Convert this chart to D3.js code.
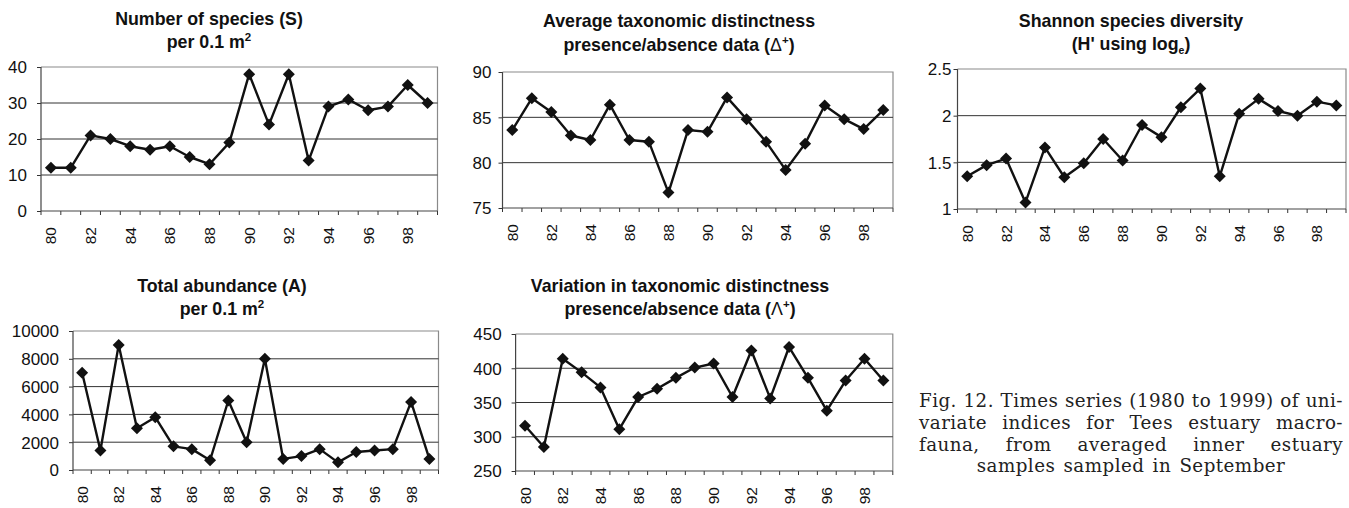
<!DOCTYPE html>
<html>
<head>
<meta charset="utf-8">
<script src="https://cdn.jsdelivr.net/npm/d3@7/dist/d3.min.js"></script>
<style>
  html, body { margin: 0; padding: 0; background: #fff; }
  svg { display: block; }
  .tick text { font-family: "Liberation Sans", Arial, sans-serif; fill: #111; }
  .title { font-family: "Liberation Sans", Arial, sans-serif; font-weight: bold; font-size: 17.8px; fill: #111; }
  .caption { font-family: "DejaVu Serif", "Liberation Serif", serif; font-size: 18.3px; letter-spacing: 0.45px; fill: #222; }
</style>
</head>
<body>
<svg id="fig" width="1349" height="508"></svg>
<script>
// Sampling years (1980–1999), shown as two-digit labels
const years = ["80","81","82","83","84","85","86","87","88","89",
               "90","91","92","93","94","95","96","97","98","99"];
const yearLabels = ["80","82","84","86","88","90","92","94","96","98"];

// Univariate indices per year
const speciesS     = [12, 12, 21, 20, 18, 17, 18, 15, 13, 19, 38, 24, 38, 14, 29, 31, 28, 29, 35, 30];
const avgTaxDist   = [83.6, 87.1, 85.6, 83.0, 82.5, 86.4, 82.5, 82.3, 76.7, 83.6,
                      83.4, 87.2, 84.8, 82.3, 79.2, 82.1, 86.3, 84.8, 83.7, 85.8];
const shannonH     = [1.35, 1.47, 1.54, 1.07, 1.66, 1.34, 1.49, 1.75, 1.52, 1.90,
                      1.77, 2.09, 2.29, 1.35, 2.02, 2.18, 2.05, 2.00, 2.15, 2.11];
const abundanceA   = [7000, 1400, 9000, 3000, 3800, 1700, 1500, 700, 5000, 2000,
                      8000, 800, 1000, 1500, 550, 1300, 1400, 1500, 4900, 800];
const varTaxDist   = [316, 285, 414, 394, 372, 311, 358, 370, 386, 401,
                      407, 358, 426, 356, 431, 386, 338, 382, 414, 382];

// Y-axis tick values for each panel
const ticksS   = [0, 10, 20, 30, 40];
const ticksAvg = [75, 80, 85, 90];
const ticksH   = [1, 1.5, 2, 2.5];
const ticksA   = [0, 2000, 4000, 6000, 8000, 10000];
const ticksVar = [250, 300, 350, 400, 450];

const svg = d3.select("#fig");

// Panel layout: plot rectangle, title placement and y-label padding
const panels = [
  { values: speciesS, ticks: ticksS, x0: 41, x1: 437.5, yTop: 67, yBot: 211,
    tcx: 209, tb: [25, 48], pad: 10, title: "S" },
  { values: avgTaxDist, ticks: ticksAvg, x0: 502.5, x1: 893, yTop: 72, yBot: 208,
    tcx: 679, tb: [27, 51], pad: 7, title: "avg" },
  { values: shannonH, ticks: ticksH, x0: 957.5, x1: 1346, yTop: 69, yBot: 209,
    tcx: 1131, tb: [27, 50], pad: 2, title: "H" },
  { values: abundanceA, ticks: ticksA, x0: 73, x1: 438.5, yTop: 331, yBot: 470,
    tcx: 222, tb: [292, 315], pad: 10, title: "A" },
  { values: varTaxDist, ticks: ticksVar, x0: 515.6, x1: 892.8, yTop: 334, yBot: 471,
    tcx: 680, tb: [292, 315], pad: 10, title: "var" }
];

function drawTitle(g, p) {
  const l1 = g.append("text").attr("class", "title").attr("text-anchor", "middle")
    .attr("x", p.tcx).attr("y", p.tb[0]);
  const l2 = g.append("text").attr("class", "title").attr("text-anchor", "middle")
    .attr("x", p.tcx).attr("y", p.tb[1]);
  const sup = (t, s) => t.append("tspan").attr("dy", -7).attr("font-size", 11.5).text(s);
  if (p.title === "S" || p.title === "A") {
    l1.text(p.title === "S" ? "Number of species (S)" : "Total abundance (A)");
    l2.append("tspan").text("per 0.1 m");
    sup(l2, "2");
  } else if (p.title === "avg" || p.title === "var") {
    l1.text(p.title === "avg" ? "Average taxonomic distinctness" : "Variation in taxonomic distinctness");
    l2.append("tspan").text("presence/absence data (");
    l2.append("tspan").attr("font-weight", "normal").text(p.title === "avg" ? "Δ" : "Λ");
    sup(l2, "+");
    l2.append("tspan").attr("dy", 7).text(")");
  } else {
    l1.text("Shannon species diversity");
    l2.append("tspan").text("(H' using log");
    l2.append("tspan").attr("dy", 4).attr("font-size", 10.5).text("e");
    l2.append("tspan").attr("dy", -4).text(")");
  }
}

panels.forEach(p => {
  const g = svg.append("g");
  const x = d3.scaleBand().domain(years).range([p.x0, p.x1]);
  const y = d3.scaleLinear().domain([p.ticks[0], p.ticks[p.ticks.length - 1]]).range([p.yBot, p.yTop]);
  const cx = d => x(d) + x.bandwidth() / 2;

  drawTitle(g, p);

  // plot-area border (top and right)
  g.append("path")
    .attr("d", `M${p.x0},${y(p.ticks[p.ticks.length - 1])}H${p.x1}V${p.yBot}`)
    .attr("fill", "none").attr("stroke", "#8a8a8a").attr("stroke-width", 1.2);

  // horizontal gridlines
  g.selectAll(".grid").data(p.ticks.slice(1, -1)).join("line")
    .attr("x1", p.x0).attr("x2", p.x1)
    .attr("y1", d => y(d)).attr("y2", d => y(d))
    .attr("stroke", "#333").attr("stroke-width", 1);

  // y axis
  const ya = g.append("g").attr("transform", `translate(${p.x0},0)`)
    .call(d3.axisLeft(y).tickValues(p.ticks).tickSize(4).tickPadding(p.pad)
      .tickFormat(d3.format("")));
  ya.select(".domain").remove();
  ya.selectAll("line").attr("stroke", "#333");
  ya.selectAll("text").attr("font-size", 17).attr("dy", "0.35em");
  g.append("line").attr("x1", p.x0).attr("x2", p.x0).attr("y1", p.yTop).attr("y2", p.yBot)
    .attr("stroke", "#444").attr("stroke-width", 1.2);

  // x axis: boundary ticks between categories
  const bounds = years.map(d => x(d)).concat([p.x1]);
  g.selectAll(".xt").data(bounds).join("line")
    .attr("x1", d => d).attr("x2", d => d)
    .attr("y1", p.yBot).attr("y2", p.yBot + 4)
    .attr("stroke", "#333");
  g.append("line").attr("x1", p.x0).attr("x2", p.x1).attr("y1", p.yBot).attr("y2", p.yBot)
    .attr("stroke", "#444").attr("stroke-width", 1.2);

  // rotated year labels
  const xa = g.append("g").attr("transform", `translate(0,${p.yBot})`)
    .call(d3.axisBottom(x).tickValues(yearLabels).tickSize(0).tickPadding(0));
  xa.select(".domain").remove();
  xa.selectAll("text")
    .attr("font-size", 15.5)
    .attr("text-anchor", "end")
    .attr("dy", null).attr("y", null)
    .attr("dominant-baseline", "central")
    .attr("transform", "translate(0,16) rotate(-90)");

  // series line and diamond markers
  const line = d3.line().x((d, i) => cx(years[i])).y(d => y(d));
  g.append("path").datum(p.values).attr("d", line)
    .attr("fill", "none").attr("stroke", "#111").attr("stroke-width", 2.4)
    .attr("stroke-linejoin", "round");
  g.selectAll(".mk").data(p.values).join("path")
    .attr("d", d3.symbol().type(d3.symbolSquare).size(72))
    .attr("transform", (d, i) => `translate(${cx(years[i])},${y(d)}) rotate(45)`)
    .attr("fill", "#111");
});

// Figure caption, justified lines with a centred last line
const captionLines = [
  "Fig. 12. Times series (1980 to 1999) of uni-",
  "variate indices for Tees estuary macro-",
  "fauna, from averaged inner estuary",
  "samples sampled in September"
];
const cap = svg.append("g").attr("class", "caption");
const capL = 919, capR = 1343, capTop = 407, capStep = 21.8;
captionLines.forEach((ln, li) => {
  const yy = capTop + li * capStep;
  if (li === captionLines.length - 1) {
    cap.append("text").attr("x", (capL + capR) / 2).attr("y", yy)
      .attr("text-anchor", "middle").attr("word-spacing", 2).text(ln);
    return;
  }
  const words = ln.split(" ");
  const widths = words.map(w => {
    const t = cap.append("text").text(w);
    const wd = t.node().getComputedTextLength();
    t.remove();
    return wd;
  });
  const gap = (capR - capL - d3.sum(widths)) / (words.length - 1);
  let xx = capL;
  words.forEach((w, i) => {
    cap.append("text").attr("x", xx).attr("y", yy).text(w);
    xx += widths[i] + gap;
  });
});
</script>
</body>
</html>
